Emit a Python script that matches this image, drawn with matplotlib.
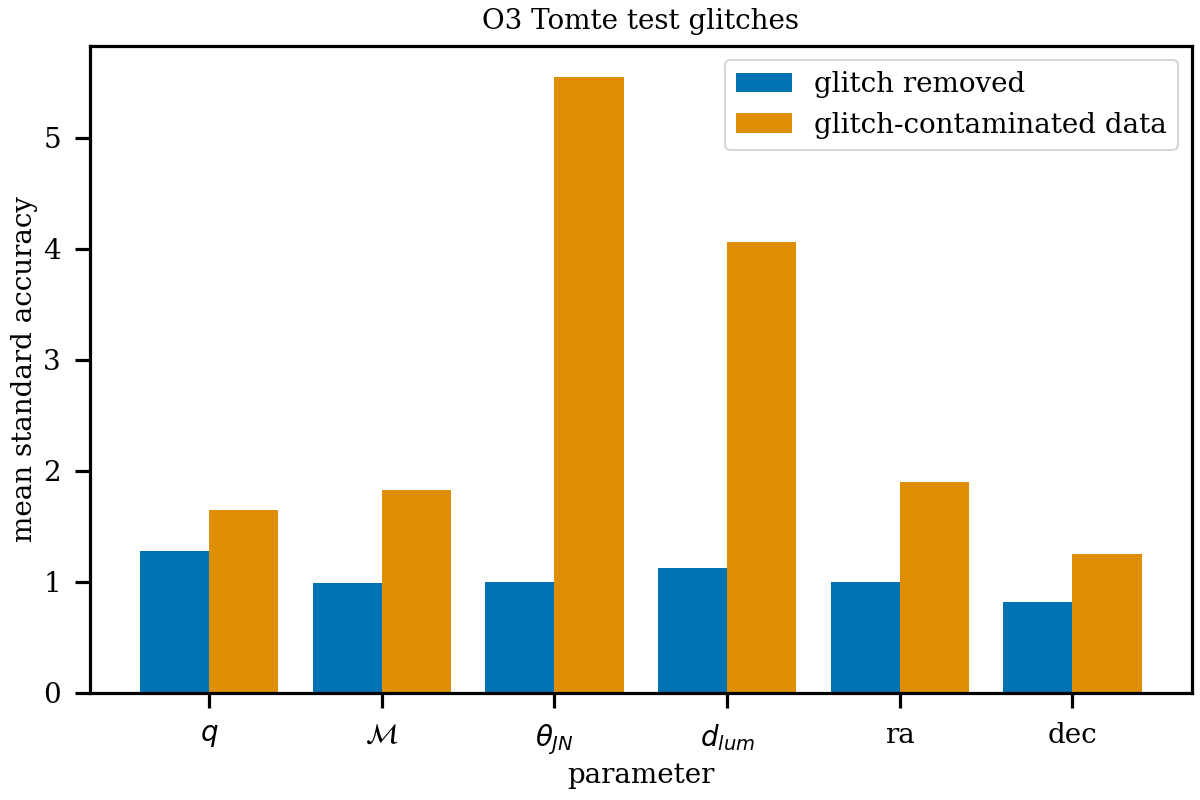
import matplotlib
matplotlib.use('Agg')
import matplotlib.pyplot as plt
import numpy as np
import seaborn as sns

sns.set_theme(context='talk', style='ticks', palette='colorblind')
plt.rcParams['font.family'] = 'DejaVu Serif'
plt.rcParams.update({
    'font.size': 20,
    'axes.titlesize': 20,
    'axes.labelsize': 20,
    'xtick.labelsize': 20,
    'ytick.labelsize': 20,
    'legend.fontsize': 20,
    'axes.edgecolor': 'black',
    'axes.linewidth': 2.3,
    'xtick.color': 'black',
    'ytick.color': 'black',
    'xtick.major.width': 2.3,
    'ytick.major.width': 2.3,
    'xtick.major.size': 11,
    'ytick.major.size': 11,
    'xtick.major.pad': 10,
    'ytick.major.pad': 10,
    'text.color': 'black',
    'axes.labelcolor': 'black',
})

params = ['$q$', r'$\mathcal{M}$', r'$\theta_{JN}$', '$d_{lum}$', 'ra', 'dec']
removed = [1.28, 0.99, 1.00, 1.12, 1.00, 0.82]
contaminated = [1.65, 1.83, 5.55, 4.06, 1.90, 1.25]

colors = sns.color_palette('colorblind')
x = np.arange(len(params))
width = 0.4

fig, ax = plt.subplots(figsize=(12, 8), dpi=100)
ax.bar(x - width / 2, removed, width, color=colors[0], linewidth=0, label='glitch removed')
ax.bar(x + width / 2, contaminated, width, color=colors[1], linewidth=0,
       label='glitch-contaminated data')
ax.axhline(0, color='#bbbbbb', lw=1, zorder=0.5)

ax.set_xticks(x)
ax.set_xticklabels(params)
ax.set_xlabel('parameter')
ax.set_ylabel('mean standard accuracy')
ax.set_title('O3 Tomte test glitches', pad=12)
ax.legend(loc='upper right')

fig.subplots_adjust(left=0.075, right=0.993, top=0.9425, bottom=0.134)
fig.savefig('out.png')
